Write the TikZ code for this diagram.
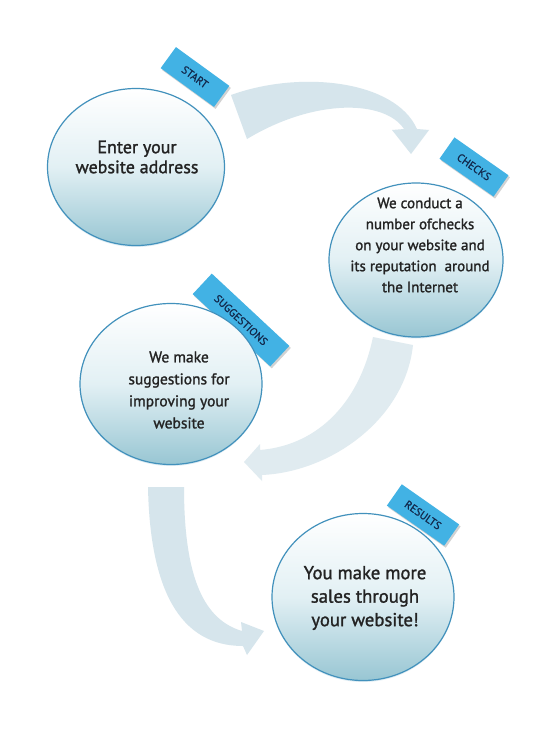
\documentclass[tikz,border=0pt]{standalone}
\usepackage{fontspec}
\setmainfont{PT Sans}
\newfontfamily\bubblefont[BoldFont={PT Sans},BoldFeatures={FakeBold=1.4}]{PT Sans}
\newfontfamily\tabfont[BoldFont={PT Sans},BoldFeatures={FakeBold=0.8}]{PT Sans}
\usetikzlibrary{shapes.geometric,shadows}
\definecolor{arrowc}{RGB}{214,229,236}
\definecolor{arrowlight}{RGB}{224,235,240}
\definecolor{rimc}{RGB}{66,145,188}
\definecolor{botc}{RGB}{152,198,211}
\definecolor{midc}{RGB}{226,240,244}
\definecolor{tabc}{RGB}{66,178,228}
\definecolor{tabtext}{RGB}{18,40,75}
\definecolor{textc}{RGB}{35,35,35}
\begin{document}
\begin{tikzpicture}[x=1pt,y=-1pt,
  bubble/.style={ellipse, inner sep=0pt, draw=rimc, line width=1.2pt,
    top color=white, bottom color=botc, middle color=midc,
    drop shadow={shadow xshift=0pt, shadow yshift=-1.5pt, opacity=0.18, fill=rimc}},
  tabbox/.style={rectangle, fill=tabc, inner sep=0pt, minimum height=26pt,
    text=tabtext, font=\tabfont\bfseries\fontsize{11}{12}\selectfont,
    drop shadow={shadow xshift=1.5pt, shadow yshift=-2pt, opacity=0.35}},
  bubbletext/.style={align=center, text=textc, inner sep=0pt},
  flow/.style={fill=arrowc}
]
\useasboundingbox (0,0) rectangle (550,733);
\fill[white] (0,0) rectangle (550,733);

% ---- flow arrows (behind everything) ----
\coordinate (a1tip) at (411,154);
\fill[flow] (231,95) .. controls (300,70) and (395,80) .. (417,129)
  -- (429,130) -- (a1tip) -- (392,130) -- (404,129)
  .. controls (385,100) and (315,98) .. (247,139) -- cycle;

\coordinate (a2tip) at (244,462);
\fill[flow, fill=arrowlight] (373,337) -- (413,345) .. controls (405,420) and (330,472) .. (262,475)
  -- (262,481) -- (a2tip) -- (260,444) -- (260,450)
  .. controls (320,445) and (360,400) .. (373,337) -- cycle;

\coordinate (a3tip) at (264,631);
\fill[flow] (148,487) .. controls (150,590) and (180,646) .. (243,646)
  -- (247,655) -- (a3tip) -- (241,622) -- (242,631)
  .. controls (205,620) and (184,580) .. (184,487) -- cycle;

% ---- tabs ----
\node[tabbox, minimum width=66pt, rotate=-36] (t1) at (195,77) {START};
\node[tabbox, minimum width=66pt, rotate=-35] (t2) at (474,167) {CHECKS};
\node[tabbox, minimum width=106pt, minimum height=28pt, rotate=-43] (t3) at (241,320) {SUGGESTIONS};
\node[tabbox, minimum width=70pt, rotate=-35] (t4) at (423,515) {RESULTS};

% ---- bubbles ----
\node[bubble, minimum width=177pt, minimum height=157pt] (c1) at (136,167) {};
\node[bubble, minimum width=174pt, minimum height=154pt] (c2) at (416,260) {};
\node[bubble, minimum width=182pt, minimum height=161pt] (c3) at (171,384) {};
\node[bubble, minimum width=182pt, minimum height=167pt] (c4) at (363,597) {};

% ---- texts ----
\node[bubbletext, font=\bubblefont\bfseries\fontsize{18}{20}\selectfont] (l1) at (137,157)
  {Enter your\\website address};
\node[bubbletext, font=\bubblefont\bfseries\fontsize{15}{21}\selectfont] (l2) at (420,245)
  {We conduct a\\number ofchecks\\on your website and\\its reputation\ \ around\\the Internet};
\node[bubbletext, font=\bubblefont\bfseries\fontsize{15.5}{22}\selectfont] (l3) at (179,390)
  {We make\\suggestions for\\improving your\\website};
\node[bubbletext, font=\bubblefont\bfseries\fontsize{18.7}{23.5}\selectfont] (l4) at (365,598)
  {You make more\\sales through\\your website!};
\end{tikzpicture}
\end{document}
